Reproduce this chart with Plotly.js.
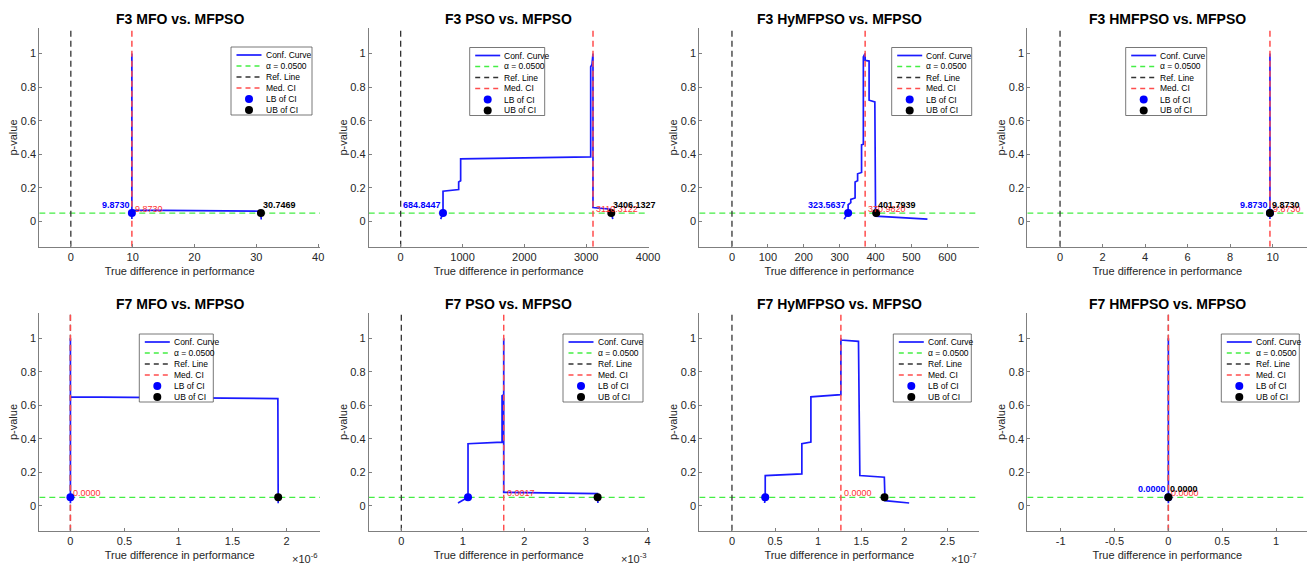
<!DOCTYPE html>
<html><head><meta charset="utf-8">
<script src="https://cdn.plot.ly/plotly-3.0.1.min.js"></script>
<style>html,body{margin:0;padding:0;background:#fff}#chart{width:1312px;height:567px}</style>
</head><body><div id="chart"></div>
<script>
// ---------------- DATA ----------------
const panelTitles = [
  'F3 MFO vs. MFPSO', 'F3 PSO vs. MFPSO', 'F3 HyMFPSO vs. MFPSO', 'F3 HMFPSO vs. MFPSO',
  'F7 MFO vs. MFPSO', 'F7 PSO vs. MFPSO', 'F7 HyMFPSO vs. MFPSO', 'F7 HMFPSO vs. MFPSO'
];
const alphaLevel = 0.05;
const refValue = 0;
const lowerBounds = [9.8730, 684.8447, 323.5637, 9.8730, 0, 1.084e-3, 0.386e-7, 0];
const medians     = [9.8730, 3110.3122, 370.9820, 9.8730, 0, 1.664e-3, 1.264e-7, 0];
const upperBounds = [30.7469, 3406.1327, 401.7939, 9.8730, 1.923e-6, 3.19e-3, 1.77e-7, 0];
const showBoundLabels = [true, true, true, true, false, false, false, true];

const curve1X = [9.873, 9.873, 9.873, 30.70, 30.75, 30.80];
const curve1Y = [0.015, 1.0, 0.068, 0.061, 0.045, 0.012];
const curve2X = [647, 684.8, 684.8, 938, 938, 970, 970, 3073, 3073, 3094, 3110, 3110, 3396, 3406, 3430];
const curve2Y = [0.014, 0.05, 0.18, 0.19, 0.235, 0.243, 0.373, 0.385, 0.921, 0.935, 1.0, 0.083, 0.073, 0.05, 0.014];
const curve3X = [312.6, 323.56, 323.56, 331, 331, 343, 343, 350, 350, 361, 361, 366, 366, 370.98, 370.98, 382, 382, 398, 400, 544.5];
const curve3Y = [0.014, 0.05, 0.10, 0.112, 0.132, 0.14, 0.235, 0.243, 0.284, 0.292, 0.456, 0.46, 0.98, 1.0, 0.96, 0.955, 0.722, 0.712, 0.032, 0.014];
const curve4X = [9.873, 9.873, 9.873];
const curve4Y = [0.015, 1.0, 0.015];
const curve5X = [0, 0, 0, 1.92e-6, 1.923e-6];
const curve5Y = [0.015, 1.0, 0.65, 0.64, 0.015];
const curve6X = [0.921e-3, 1.084e-3, 1.084e-3, 1.637e-3, 1.637e-3, 1.664e-3, 1.664e-3, 1.664e-3, 3.187e-3, 3.195e-3];
const curve6Y = [0.016, 0.05, 0.37, 0.38, 0.657, 0.663, 1.0, 0.08, 0.072, 0.016];
const curve7X = [0.379e-7, 0.386e-7, 0.386e-7, 0.811e-7, 0.811e-7, 0.916e-7, 0.916e-7, 1.264e-7, 1.264e-7, 1.264e-7, 1.468e-7, 1.476e-7, 1.484e-7, 1.768e-7, 1.776e-7, 2.056e-7];
const curve7Y = [0.016, 0.05, 0.18, 0.19, 0.37, 0.38, 0.65, 0.663, 1.0, 0.99, 0.982, 0.643, 0.18, 0.17, 0.03, 0.016];
const curve8X = [0, 0, 0];
const curve8Y = [0.015, 1.0, 0.015];
const curveX = [curve1X, curve2X, curve3X, curve4X, curve5X, curve6X, curve7X, curve8X];
const curveY = [curve1Y, curve2Y, curve3Y, curve4Y, curve5Y, curve6Y, curve7Y, curve8Y];

const xRanges = [[-5.1, 40.3], [-517, 4011], [-91, 689], [-1.54, 11.63],
                 [-0.288e-6, 2.31e-6], [-0.53e-3, 4.02e-3], [-0.379e-7, 2.87e-7], [-1.31, 1.29]];
const yRange = [-0.15, 1.15];
const xTicks = [
  [0, 10, 20, 30, 40],
  [0, 1000, 2000, 3000, 4000],
  [0, 100, 200, 300, 400, 500, 600],
  [0, 2, 4, 6, 8, 10],
  [0, 0.5e-6, 1e-6, 1.5e-6, 2e-6],
  [0, 1e-3, 2e-3, 3e-3, 4e-3],
  [0, 0.5e-7, 1e-7, 1.5e-7, 2e-7, 2.5e-7],
  [-1, -0.5, 0, 0.5, 1]
];
const xExponents = [0, 0, 0, 0, -6, -3, -7, 0];
const yTicks = [0, 0.2, 0.4, 0.6, 0.8, 1];
const xTitle = 'True difference in performance';
const yTitle = 'p-value';
const legendLabels = ['Conf. Curve', 'α = ' + alphaLevel.toFixed(4), 'Ref. Line', 'Med. CI', 'LB of CI', 'UB of CI'];

// ---------------- LAYOUT / STYLE ----------------
const W = 1312, H = 567;
const FONT = '"Liberation Sans", Arial, Helvetica, sans-serif';
const TXT = '#262626';
const AXC = '#7f7f7f';
const C_CURVE = '#1a1aff', C_ALPHA = '#44ee44', C_REF = '#333333', C_MED = '#ff4d4d', C_LB = '#0000ff', C_UB = '#000000';
const DASH = '6px,4px';

const colLeft = [39.3, 368.7, 699.3, 1027.3];
const colRight = [320, 648.7, 979.3, 1307.3];
const rowTop = [28.3, 313.2];
const rowBot = [246.7, 530.8];
const titleY = [19.3, 303.5];
const expY = 558;
const legLeft = [231, 469.7, 891.7, 1125.7, 139.3, 563, 893.3, 1221.3];
const legTop = [47, 47.5, 47.5, 47.5, 334, 334, 334, 334];
const legWidth = [81, 75, 80, 81, 74, 80, 78, 78];

const px = x => x / W;
const py = y => 1 - y / H;

const traces = [];
const annotations = [];
const shapes = [];
const layout = {
  width: W, height: H, margin: {l: 0, r: 0, t: 0, b: 0},
  paper_bgcolor: '#fff', plot_bgcolor: '#fff', showlegend: false,
  font: {family: FONT, color: TXT, size: 11},
  hovermode: false
};

function fmtTick(v, e) {
  const s = v / Math.pow(10, e);
  return String(+s.toFixed(6));
}

for (let p = 0; p < 8; p++) {
  const row = p < 4 ? 0 : 1, col = p % 4;
  const sfx = p === 0 ? '' : String(p + 1);
  const xa = 'x' + sfx, ya = 'y' + sfx;
  layout['xaxis' + sfx] = {
    domain: [px(colLeft[col]), px(colRight[col])],
    anchor: ya, range: xRanges[p], autorange: false,
    tickmode: 'array', tickvals: xTicks[p], ticktext: xTicks[p].map(v => fmtTick(v, xExponents[p])),
    showline: true, linecolor: AXC, linewidth: 1, ticks: 'inside', ticklen: 3, tickcolor: AXC,
    showgrid: false, zeroline: false,
    tickfont: {family: FONT, size: 11, color: TXT},
    title: {text: xTitle, font: {family: FONT, size: 11, color: TXT}, standoff: 5}
  };
  layout['yaxis' + sfx] = {
    domain: [py(rowBot[row]), py(rowTop[row])],
    anchor: xa, range: yRange, autorange: false,
    tickmode: 'array', tickvals: yTicks, ticktext: yTicks.map(v => String(v)),
    showline: true, linecolor: AXC, linewidth: 1, ticks: 'inside', ticklen: 3, tickcolor: AXC,
    showgrid: false, zeroline: false,
    tickfont: {family: FONT, size: 11, color: TXT},
    title: {text: yTitle, font: {family: FONT, size: 11, color: TXT}, standoff: 0}
  };

  // conf. curve
  traces.push({x: curveX[p], y: curveY[p], xaxis: xa, yaxis: ya, type: 'scatter', mode: 'lines',
    line: {color: C_CURVE, width: 1.7}, name: legendLabels[0]});
  // alpha line
  traces.push({x: xRanges[p], y: [alphaLevel, alphaLevel], xaxis: xa, yaxis: ya, type: 'scatter', mode: 'lines',
    line: {color: C_ALPHA, width: 1.3, dash: DASH}, name: legendLabels[1]});
  // reference line
  traces.push({x: [refValue, refValue], y: yRange, xaxis: xa, yaxis: ya, type: 'scatter', mode: 'lines',
    line: {color: C_REF, width: 1.3, dash: DASH}, name: legendLabels[2]});
  // median line
  traces.push({x: [medians[p], medians[p]], y: yRange, xaxis: xa, yaxis: ya, type: 'scatter', mode: 'lines',
    line: {color: C_MED, width: 1.5, dash: DASH}, name: legendLabels[3]});
  // LB / UB markers
  traces.push({x: [lowerBounds[p]], y: [alphaLevel], xaxis: xa, yaxis: ya, type: 'scatter', mode: 'markers',
    marker: {color: C_LB, size: 8}, name: legendLabels[4], cliponaxis: false});
  traces.push({x: [upperBounds[p]], y: [alphaLevel], xaxis: xa, yaxis: ya, type: 'scatter', mode: 'markers',
    marker: {color: C_UB, size: 8}, name: legendLabels[5], cliponaxis: false});

  // value labels
  if (showBoundLabels[p]) {
    annotations.push({x: lowerBounds[p], y: 0.1, xref: xa, yref: ya, text: '<b>' + lowerBounds[p].toFixed(4) + '</b>',
      showarrow: false, xanchor: 'right', yanchor: 'middle', font: {family: FONT, size: 9, color: C_LB}});
  }
  annotations.push({x: medians[p], y: 0.077, xref: xa, yref: ya, text: medians[p].toFixed(4),
    showarrow: false, xanchor: 'left', yanchor: 'middle', xshift: 1, font: {family: FONT, size: 9, color: '#ff3333'}});
  if (showBoundLabels[p]) {
    annotations.push({x: upperBounds[p], y: 0.1, xref: xa, yref: ya, text: '<b>' + upperBounds[p].toFixed(4) + '</b>',
      showarrow: false, xanchor: 'left', yanchor: 'middle', font: {family: FONT, size: 9, color: C_UB}});
  }

  // panel title
  annotations.push({x: px((colLeft[col] + colRight[col]) / 2), y: py(titleY[row]), xref: 'paper', yref: 'paper',
    text: '<b>' + panelTitles[p] + '</b>', showarrow: false, xanchor: 'center', yanchor: 'middle',
    font: {family: FONT, size: 14, color: '#000'}});

  // exponent label
  if (xExponents[p] !== 0) {
    annotations.push({x: px(colRight[col]), y: py(expY), xref: 'paper', yref: 'paper',
      text: '×10<sup>' + xExponents[p] + '</sup>', showarrow: false, xanchor: 'right', yanchor: 'middle',
      font: {family: FONT, size: 11, color: TXT}});
  }

  // legend box (drawn)
  const L = legLeft[p], T = legTop[p], LW = legWidth[p], LH = 68;
  shapes.push({type: 'rect', xref: 'paper', yref: 'paper', x0: px(L), x1: px(L + LW), y0: py(T + LH), y1: py(T),
    fillcolor: '#fff', line: {color: '#555', width: 0.8}, layer: 'above'});
  const glyphs = [
    {kind: 'line', color: C_CURVE, dash: 'solid', width: 1.7},
    {kind: 'line', color: C_ALPHA, dash: '5px,4px', width: 1.3},
    {kind: 'line', color: C_REF, dash: '5px,4px', width: 1.3},
    {kind: 'line', color: C_MED, dash: '5px,4px', width: 1.3},
    {kind: 'dot', color: C_LB},
    {kind: 'dot', color: C_UB}
  ];
  for (let i = 0; i < 6; i++) {
    const yy = T + 8 + i * 11;
    const g = glyphs[i];
    if (g.kind === 'line') {
      shapes.push({type: 'line', xref: 'paper', yref: 'paper', x0: px(L + 5.5), x1: px(L + 30.5), y0: py(yy), y1: py(yy),
        line: {color: g.color, width: g.width, dash: g.dash}, layer: 'above'});
    } else {
      shapes.push({type: 'circle', xref: 'paper', yref: 'paper', xsizemode: 'pixel', ysizemode: 'pixel',
        xanchor: px(L + 18), yanchor: py(yy), x0: -4, x1: 4, y0: -4, y1: 4,
        fillcolor: g.color, line: {color: g.color, width: 0}, layer: 'above'});
    }
    annotations.push({x: px(L + 32.5), y: py(yy), xref: 'paper', yref: 'paper', text: legendLabels[i],
      showarrow: false, xanchor: 'left', yanchor: 'middle', font: {family: FONT, size: 8.5, color: '#000'}});
  }
}
layout.annotations = annotations;
layout.shapes = shapes;

Plotly.newPlot('chart', traces, layout, {displayModeBar: false, staticPlot: true});
</script>
</body></html>
